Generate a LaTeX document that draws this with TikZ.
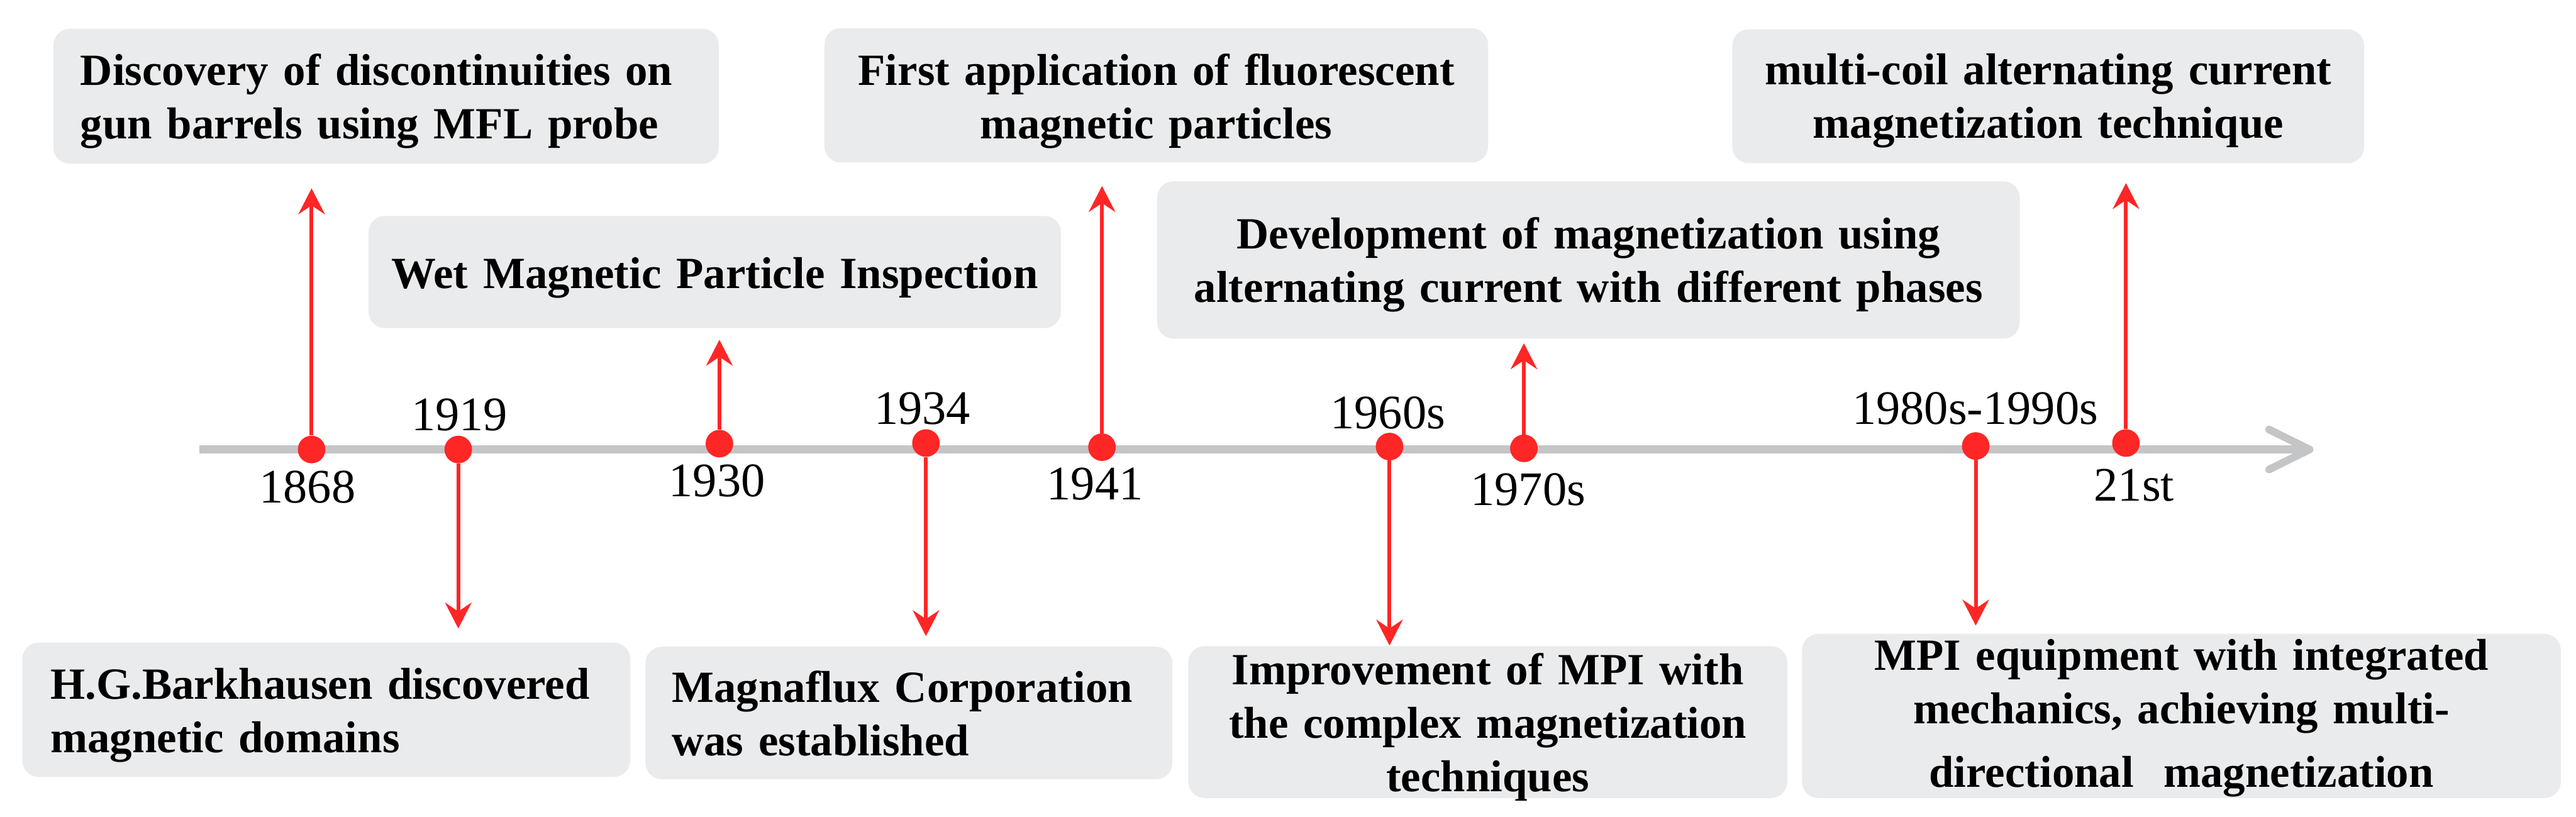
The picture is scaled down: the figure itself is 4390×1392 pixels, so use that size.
\documentclass[tikz,border=0pt]{standalone}
\usepackage{fontspec}
\setmainfont{Liberation Serif}
\usetikzlibrary{arrows.meta}
\definecolor{axisgray}{RGB}{196,197,199}
\definecolor{boxgray}{RGB}{234,235,237}
\definecolor{evred}{RGB}{255,38,38}
\tikzset{
  evbox/.style={fill=boxgray, draw=none, rounded corners=14pt, inner sep=0pt,
    font=\bfseries\fontsize{38}{45.5}\selectfont, text height=26pt},
  tdot/.style={circle, fill=evred, minimum size=23.5pt, inner sep=0pt},
  yrlabel/.style={font=\fontsize{41}{49}\selectfont, anchor=base, inner sep=0pt},
  redarr/.style={draw=evred, line width=3.25pt, -{Stealth[length=22pt,width=22.5pt,inset=7.5pt]}},
}
\begin{document}
\begin{tikzpicture}[x=0.5pt,y=-0.5pt]
\useasboundingbox (0,0) rectangle (4390,1392);
% axis
\coordinate (ax0) at (340,766);
\coordinate (ax1) at (3936,766);
\coordinate (ch1) at (3867,732);
\coordinate (ch2) at (3867,800);
\draw[axisgray, line width=7pt] (ax0) -- (ax1);
\draw[axisgray, line width=6.5pt, line cap=round, line join=round] (ch1) -- (ax1) -- (ch2);

% boxes
\node[evbox, minimum width=567pt, minimum height=115pt, text width=521pt, align=left, text depth=45pt] (bA) at (658,164) {Discovery of discontinuities on\\gun barrels using MFL probe};
\node[evbox, minimum width=590pt, minimum height=95.5pt, text width=560pt, align=center, text height=40pt, text depth=12.5pt] (bB) at (1218,463.5) {Wet Magnetic Particle Inspection};
\node[evbox, minimum width=565.5pt, minimum height=114.5pt, text width=540pt, align=center, text depth=43.5pt] (bC) at (1970.5,162.5) {First application of fluorescent\\magnetic particles};
\node[evbox, minimum width=735pt, minimum height=134pt, text width=700pt, align=center, text depth=45pt] (bD) at (2707,443) {Development of magnetization using\\alternating current with different phases};
\node[evbox, minimum width=538.5pt, minimum height=114pt, text width=520pt, align=center, text depth=46pt] (bE) at (3490.5,164) {multi-coil alternating current\\magnetization technique};
\node[evbox, minimum width=518pt, minimum height=114.5pt, text width=470pt, align=left, text depth=44.5pt] (bF) at (556,1209.5) {H.G.Barkhausen discovered\\magnetic domains};
\node[evbox, minimum width=449pt, minimum height=113pt, text width=404pt, align=left, text depth=44pt] (bG) at (1549,1215) {Magnaflux Corporation\\was established};
\node[evbox, minimum width=510.5pt, minimum height=129.5pt, text width=480pt, align=center, text depth=89.5pt] (bH) at (2535.5,1230.5) {Improvement of MPI with\\the complex magnetization\\techniques};
\node[evbox, minimum width=646.5pt, minimum height=140pt, text width=600pt, align=center, text depth=104pt] (bI) at (3717.5,1220) {MPI equipment with integrated\\mechanics, achieving multi-\\[8.5pt]directional\ \ magnetization};

% dots
\node[tdot] (d1868) at (531,766) {};
\node[tdot] (d1919) at (781,766) {};
\node[tdot] (d1930) at (1226,756) {};
\node[tdot] (d1934) at (1578,755) {};
\node[tdot] (d1941) at (1878,762) {};
\node[tdot] (d1960) at (2368,761) {};
\node[tdot] (d1970) at (2597,764) {};
\node[tdot] (d1980) at (3367,760) {};
\node[tdot] (d21) at (3623,755) {};

% arrow tips
\coordinate (t1868) at (531,321);
\coordinate (t1919) at (781,1071);
\coordinate (t1930) at (1226,579);
\coordinate (t1934) at (1578,1084);
\coordinate (t1941) at (1878,317);
\coordinate (t1960) at (2368,1100);
\coordinate (t1970) at (2597,585);
\coordinate (t1980) at (3367,1066);
\coordinate (t21) at (3623,312);

\draw[redarr] (d1868) -- (t1868);
\draw[redarr] (d1919) -- (t1919);
\draw[redarr] (d1930) -- (t1930);
\draw[redarr] (d1934) -- (t1934);
\draw[redarr] (d1941) -- (t1941);
\draw[redarr] (d1960) -- (t1960);
\draw[redarr] (d1970) -- (t1970);
\draw[redarr] (d1980) -- (t1980);
\draw[redarr] (d21) -- (t21);

% year labels
\node[yrlabel] (y1868) at (524,857) {1868};
\node[yrlabel] (y1919) at (783,734) {1919};
\node[yrlabel] (y1930) at (1222,846) {1930};
\node[yrlabel] (y1934) at (1572,723) {1934};
\node[yrlabel] (y1941) at (1866,851) {1941};
\node[yrlabel] (y1960) at (2365,730) {1960s};
\node[yrlabel] (y1970) at (2604,861) {1970s};
\node[yrlabel] (y1980) at (3366,723) {1980s-1990s};
\node[yrlabel] (y21) at (3637,854) {21st};
\end{tikzpicture}
\end{document}
